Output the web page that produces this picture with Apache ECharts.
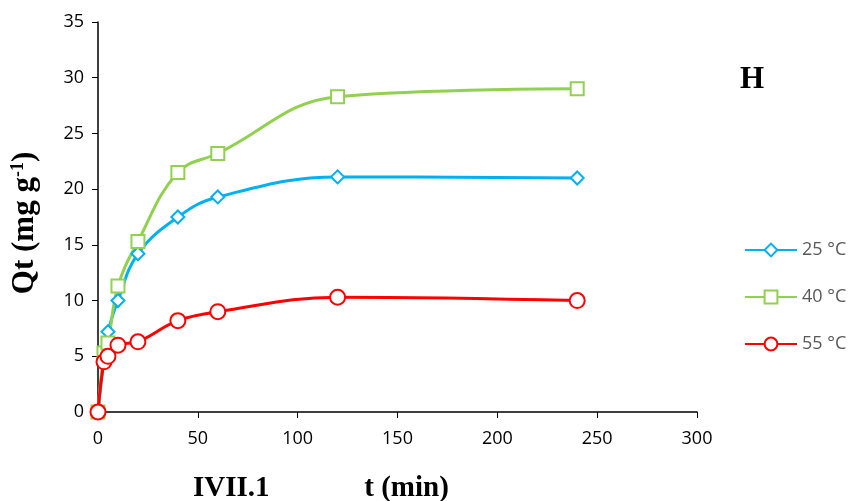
<!DOCTYPE html>
<html>
<head>
<meta charset="utf-8">
<script src="https://cdn.jsdelivr.net/npm/echarts@6/dist/echarts.min.js"></script>
<style>
  html, body { margin: 0; padding: 0; background: #fff; }
  #chart { width: 855px; height: 501px; }
</style>
</head>
<body>
<div id="chart"></div>
<script>
// time (min) and Qt values
const times = [0, 3, 5, 10, 20, 40, 60, 120, 240];
const qt25 = [0, 4.8, 7.2, 10.0, 14.2, 17.5, 19.3, 21.1, 21.0];
const qt40 = [0, 5.3, 6.2, 11.3, 15.3, 21.5, 23.2, 28.3, 29.0];
const qt55 = [0, 4.5, 5.0, 6.0, 6.3, 8.2, 9.0, 10.3, 10.0];
const seriesNames = ['25 °C', '40 °C', '55 °C'];

function pairs(ys) {
  return times.map((t, i) => [t, ys[i]]);
}

var myChart = echarts.init(document.getElementById('chart'));

const lineSeries = (name, ys, color, symbol, size) => ({
  name: name,
  type: 'line',
  data: pairs(ys),
  smooth: 0.4,
  symbol: symbol,
  symbolSize: size,
  lineStyle: { color: color, width: 3 },
  itemStyle: { color: color, borderWidth: 1.5 }
});

var option = {
  animation: false,
  grid: { left: 98, right: 158, top: 22, bottom: 89, containLabel: false, outerBoundsMode: 'none' },
  legend: {
    orient: 'vertical',
    left: 744,
    top: 241,
    padding: 0,
    itemGap: 29,
    itemWidth: 52,
    itemHeight: 16,
    textStyle: { color: '#595959', fontSize: 18, fontFamily: 'Open Sans' },
    data: seriesNames
  },
  xAxis: {
    type: 'value',
    min: 0, max: 300, interval: 50,
    splitLine: { show: false },
    axisLine: { lineStyle: { color: '#000', width: 1.5 } },
    axisTick: { lineStyle: { color: '#000' }, length: 6 },
    axisLabel: { color: '#000', fontSize: 18, fontFamily: 'Open Sans', margin: 18 },
    name: 't (min)',
    nameLocation: 'middle',
    nameGap: 62,
    nameTextStyle: { fontFamily: 'Liberation Serif', fontWeight: 'bold', fontSize: 29, color: '#000', padding: [0, 0, 0, 18] }
  },
  yAxis: {
    type: 'value',
    min: 0, max: 35, interval: 5,
    splitLine: { show: false },
    axisLine: { show: true, lineStyle: { color: '#000', width: 1.5 } },
    axisTick: { show: true, lineStyle: { color: '#000' }, length: 6 },
    axisLabel: { color: '#000', fontSize: 18, fontFamily: 'Open Sans', margin: 14 },
    name: '{b|Qt (mg g}{s|-1}{b|)}',
    nameLocation: 'middle',
    nameGap: 57,
    nameTextStyle: {
      padding: [0, 12, 0, 0],
      rich: {
        b: { fontFamily: 'Liberation Serif', fontWeight: 'bold', fontSize: 31, color: '#000' },
        s: { fontFamily: 'Liberation Serif', fontWeight: 'bold', fontSize: 18, color: '#000', verticalAlign: 'top', padding: [0, 0, 14, 0] }
      }
    }
  },
  graphic: [
    { type: 'text', left: 740, top: 64, style: { text: 'H', fontFamily: 'Liberation Serif', fontWeight: 'bold', fontSize: 31, fill: '#000' } },
    { type: 'text', left: 193, top: 474, style: { text: 'IVII.1', fontFamily: 'Liberation Serif', fontWeight: 'bold', fontSize: 29, fill: '#000' } }
  ],
  series: [
    lineSeries(seriesNames[0], qt25, '#00b0f0', 'emptyDiamond', 13),
    lineSeries(seriesNames[1], qt40, '#92d050', 'emptyRect', 13),
    lineSeries(seriesNames[2], qt55, '#ff0000', 'emptyCircle', 15)
  ]
};
myChart.setOption(option);
</script>
</body>
</html>
